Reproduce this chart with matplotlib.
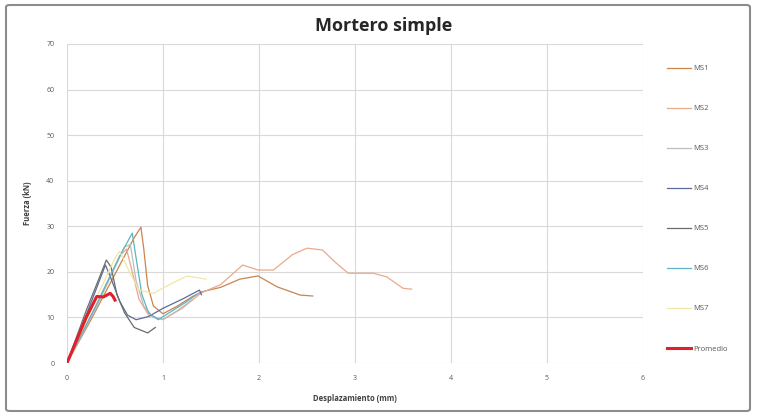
import matplotlib.pyplot as plt
from matplotlib.patches import FancyBboxPatch

# Desplazamiento (mm) / Fuerza (kN)
ms1_x = [0.0, 0.25, 0.5, 0.7, 0.77, 0.80, 0.84, 0.90, 1.0, 1.15, 1.3, 1.4, 1.6, 1.8, 1.99, 2.19, 2.43, 2.56]
ms1_y = [0.0, 9.5, 19.5, 27.5, 29.8, 25.0, 17.0, 12.5, 10.8, 12.5, 14.5, 15.6, 16.6, 18.4, 19.1, 16.7, 14.9, 14.7]
ms2_x = [0.0, 0.3, 0.55, 0.62, 0.68, 0.75, 0.85, 1.0, 1.2, 1.4, 1.6, 1.83, 1.99, 2.15, 2.35, 2.5, 2.66, 2.8, 2.93, 3.19, 3.33, 3.5, 3.59]
ms2_y = [0.0, 12.5, 23.5, 25.0, 20.0, 14.0, 10.5, 9.5, 12.0, 15.4, 17.2, 21.5, 20.4, 20.4, 23.8, 25.2, 24.8, 22.0, 19.7, 19.7, 18.9, 16.4, 16.2]
ms3_x = [0.0, 0.3, 0.6, 0.66, 0.72, 0.80, 0.90, 1.0, 1.15, 1.3]
ms3_y = [0.0, 12.0, 25.5, 26.0, 18.0, 12.5, 10.0, 9.6, 11.5, 13.8]
ms4_x = [0.0, 0.2, 0.40, 0.45, 0.55, 0.63, 0.72, 0.85, 1.0, 1.2, 1.38, 1.40]
ms4_y = [0.0, 10.5, 21.5, 19.0, 13.5, 10.5, 9.5, 10.2, 12.0, 14.0, 16.0, 15.0]
ms5_x = [0.0, 0.2, 0.41, 0.46, 0.52, 0.60, 0.70, 0.84, 0.92]
ms5_y = [0.0, 11.5, 22.6, 21.0, 15.0, 11.0, 7.8, 6.6, 7.8]
ms6_x = [0.0, 0.3, 0.55, 0.68, 0.72, 0.78, 0.85, 0.95, 1.1, 1.25, 1.35]
ms6_y = [0.0, 12.5, 23.5, 28.5, 23.0, 15.0, 11.0, 9.5, 11.5, 13.5, 15.0]
ms7_x = [0.0, 0.3, 0.5, 0.55, 0.65, 0.75, 0.90, 1.05, 1.25, 1.39, 1.45]
ms7_y = [0.0, 14.0, 23.0, 24.5, 20.0, 16.0, 15.3, 17.0, 19.1, 18.6, 18.4]
prom_x = [0.0, 0.10, 0.20, 0.31, 0.38, 0.45, 0.48, 0.50]
prom_y = [0.0, 5.0, 10.0, 14.6, 14.5, 15.3, 14.6, 13.8]

series = [
    ('MS1', ms1_x, ms1_y, '#c8854e', 0.9),
    ('MS2', ms2_x, ms2_y, '#e9a98c', 0.9),
    ('MS3', ms3_x, ms3_y, '#bdbdbd', 0.9),
    ('MS4', ms4_x, ms4_y, '#5d6a9c', 0.9),
    ('MS5', ms5_x, ms5_y, '#6b6b6b', 0.9),
    ('MS6', ms6_x, ms6_y, '#5cb4c6', 0.9),
    ('MS7', ms7_x, ms7_y, '#f2e6a6', 0.9),
    ('Promedio', prom_x, prom_y, '#e0202c', 2.2),
]

x_ticks = [0, 1, 2, 3, 4, 5, 6]
y_ticks = [0, 10, 20, 30, 40, 50, 60, 70]

plt.rcParams['font.family'] = ['Open Sans', 'DejaVu Sans']

fig = plt.figure(figsize=(7.58, 4.16), dpi=100, facecolor='white')
ax = fig.add_axes([67 / 758, 1 - 363 / 416, 576 / 758, 319 / 416])

for name, xs, ys, color, lw in series:
    ax.plot(xs, ys, color=color, lw=lw, label=name, solid_joinstyle='round')

ax.set_xlim(0, 6)
ax.set_ylim(0, 70)
ax.set_xticks(x_ticks)
ax.set_yticks(y_ticks)
ax.grid(True, color='#d9d9d9', lw=0.8)
ax.set_axisbelow(True)
for s in ax.spines.values():
    s.set_visible(False)
ax.tick_params(length=0, labelsize=5, colors='#595959', pad=9)

ax.set_xlabel('Desplazamiento (mm)', fontsize=5.5, fontweight='bold', color='#404040', labelpad=8)
ax.set_ylabel('Fuerza (kN)', fontsize=5.5, fontweight='bold', color='#404040', labelpad=10)
fig.text(384 / 758, 1 - 26 / 416, 'Mortero simple', ha='center', va='center',
         fontsize=13, fontweight='bold', color='#262626')

leg = ax.legend(loc='upper left', bbox_to_anchor=(660 / 758, 1 - 58 / 416),
                bbox_transform=fig.transFigure, frameon=False, fontsize=5.5,
                labelspacing=4.28, handlelength=3.2, handletextpad=0.2)
for t in leg.get_texts():
    t.set_color('#595959')

# grey frame round the whole chart
fig.patches.append(FancyBboxPatch((6 / 758, 5 / 416), 744 / 758, 406 / 416,
                                  boxstyle='round,pad=0,rounding_size=0.005',
                                  transform=fig.transFigure, fill=False,
                                  edgecolor='#8c8c8c', lw=1.5))

fig.savefig('out.png', dpi=100, facecolor='white')
